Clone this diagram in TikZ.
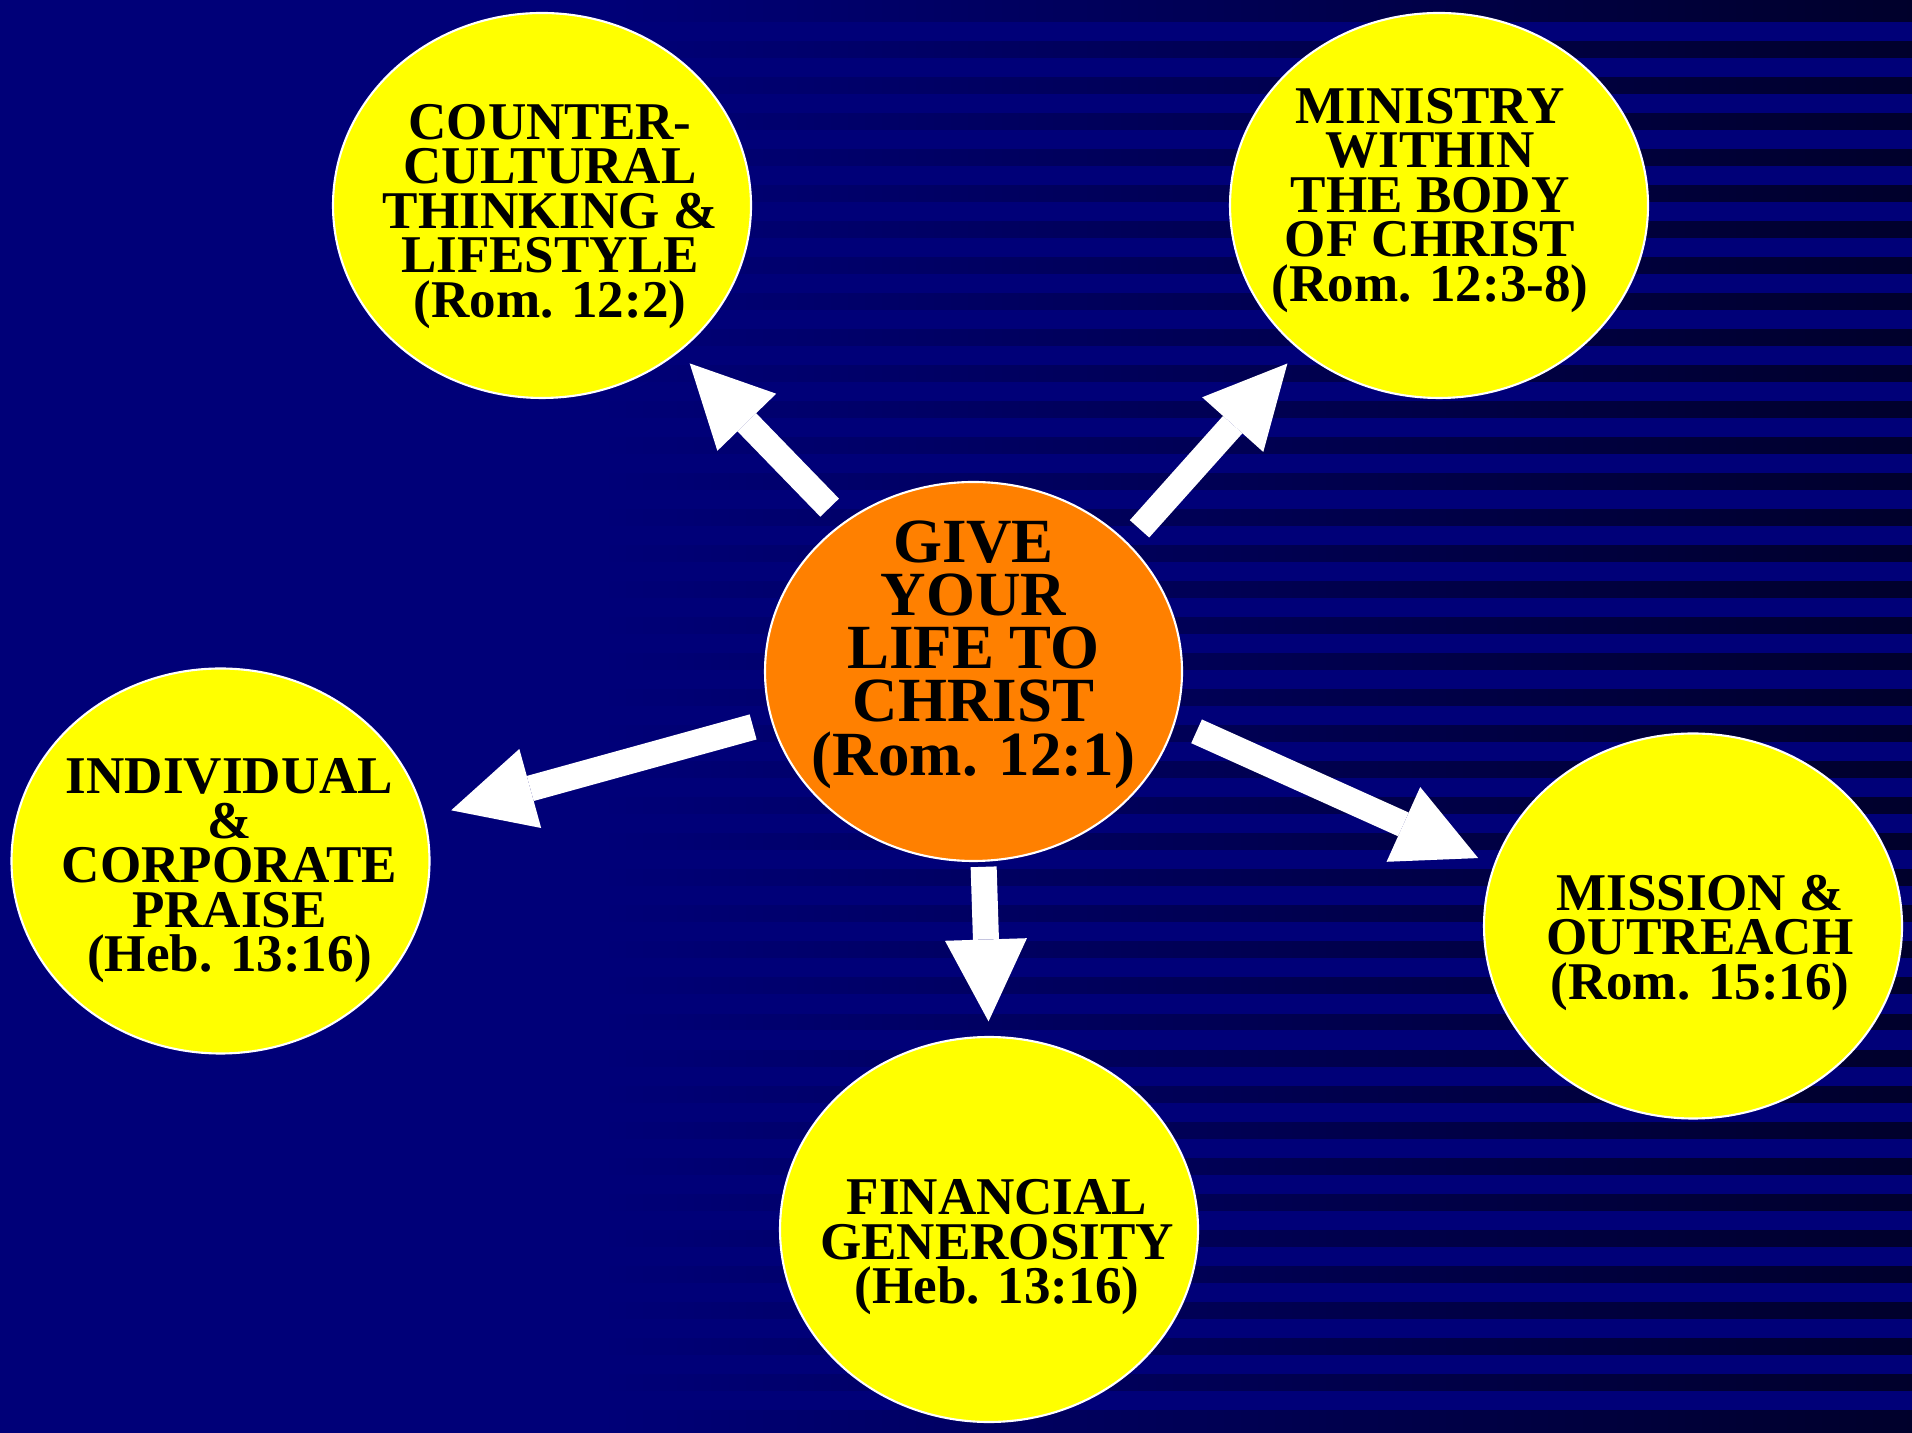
\documentclass[tikz,border=0pt]{standalone}
\usepackage{fontspec}
\setmainfont{Liberation Serif}
\usetikzlibrary{shapes.geometric,arrows.meta}

\definecolor{bgnavy}{RGB}{0,0,120}
\definecolor{bgdark}{RGB}{0,0,42}
\definecolor{bubbleyellow}{RGB}{255,255,0}
\definecolor{heartorange}{RGB}{255,128,0}

\begin{document}
\begin{tikzpicture}[>={Triangle[length=0.82cm, width=0.82cm, line width=0pt]},
    bubble/.style={ellipse, draw=white, line width=0.6pt, fill=bubbleyellow,
        inner sep=0pt, minimum width=4.18cm, minimum height=3.85cm},
    heart/.style={bubble, fill=heartorange, minimum width=4.17cm, minimum height=3.79cm},
    txt/.style={align=center, inner sep=0pt, text=black,
        font=\fontsize{15.1}{12.66}\selectfont\bfseries},
    bigtxt/.style={txt, font=\fontsize{17.9}{15.16}\selectfont\bfseries},
    push/.style={->, white, line width=0.26cm}]
    \useasboundingbox (0,0) rectangle (19.12,14.32);

    % background stripes
    \fill[bgnavy] (-0.2,-0.2) rectangle (19.32,14.52);
    \foreach \k in {0,...,37}
        \shade[left color=bgnavy, right color=bgdark] (6,13.74-0.36*\k) rectangle (19.32,13.90-0.36*\k);
    \shade[left color=bgnavy, right color=bgdark] (6,14.10) rectangle (19.32,14.52);
    \shade[left color=bgnavy, right color=bgdark] (6,-0.2) rectangle (19.32,0.22);

    % centre and the five fruits
    \node[heart] (ctr) at (9.735,7.605) {};
    \node[bigtxt] (ctrtext) at ([yshift=0.17cm]ctr) {GIVE\\YOUR\\LIFE TO\\CHRIST\\(Rom. 12:1)};

    \node[bubble] (tl) at (5.42,12.265) {};
    \node[txt] (tltext) at ([xshift=0.08cm, yshift=-0.11cm]tl) {COUNTER-\\CULTURAL\\THINKING \&\\LIFESTYLE\\(Rom. 12:2)};

    \node[bubble] (tr) at (14.39,12.265) {};
    \node[txt] (trtext) at ([xshift=-0.09cm, yshift=0.05cm]tr) {MINISTRY\\WITHIN\\THE BODY\\OF CHRIST\\(Rom. 12:3-8)};

    \node[bubble] (lf) at (2.205,5.71) {};
    \node[txt] (lftext) at ([xshift=0.09cm, yshift=-0.10cm]lf) {INDIVIDUAL\\\&\\CORPORATE\\PRAISE\\(Heb. 13:16)};

    \node[bubble] (bt) at (9.89,2.025) {};
    \node[txt] (bttext) at ([xshift=0.08cm, yshift=-0.18cm]bt) {FINANCIAL\\GENEROSITY\\(Heb. 13:16)};

    \node[bubble] (rt) at (16.93,5.06) {};
    \node[txt] (rttext) at ([xshift=0.07cm, yshift=-0.17cm]rt) {MISSION \&\\OUTREACH\\(Rom. 15:16)};

    % arrows
    \draw[push, shorten <=0.20cm, shorten >=0.155cm] (ctr.131.6) -- (tl.-47.9);
    \draw[push, shorten <=0.18cm, shorten >=0.18cm] (ctr.40.9) -- (tr.226.2);
    \draw[push, shorten <=0.19cm, shorten >=0.27cm] (ctr.194.2) -- (lf.12.5);
    \draw[push, shorten <=0.05cm, shorten >=0.145cm] (ctr.-87.8) -- (bt.90.6);
    \draw[push, shorten <=0.23cm, shorten >=0.17cm] (ctr.-14.7) -- (rt.163.4);
\end{tikzpicture}
\end{document}
